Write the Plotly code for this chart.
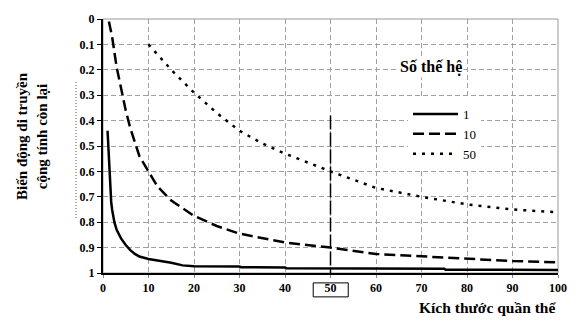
import plotly.graph_objects as go

# Population size (x) and remaining additive genetic variance (y)
x_gen1 = [1, 1.2, 1.4, 1.6, 1.8, 2, 2.5, 3, 3.5, 4, 5, 6, 7, 8, 10, 12, 15, 17.5, 20, 30, 30.3, 40, 40.3, 75, 75.3, 100]
y_gen1 = [0.44, 0.52, 0.6, 0.67, 0.72, 0.75, 0.8, 0.83, 0.85, 0.865, 0.89, 0.91, 0.925, 0.935, 0.945, 0.95, 0.96, 0.97, 0.973, 0.974, 0.977, 0.978, 0.981, 0.983, 0.987, 0.988]

x_gen10 = [1.3, 2, 3, 4, 5, 6, 7, 8, 10, 12, 15, 20, 25, 30, 40, 50, 60, 70, 80, 90, 100]
y_gen10 = [0.01, 0.07, 0.19, 0.28, 0.36, 0.43, 0.49, 0.54, 0.6, 0.66, 0.715, 0.775, 0.815, 0.845, 0.88, 0.9, 0.925, 0.935, 0.945, 0.953, 0.958]

x_gen50 = [10, 15, 20, 25, 30, 35, 40, 50, 60, 70, 80, 90, 99]
y_gen50 = [0.1, 0.2, 0.29, 0.37, 0.44, 0.49, 0.53, 0.6, 0.665, 0.7, 0.73, 0.75, 0.76]

series_names = ["1", "10", "50"]

x_ticks = [0, 10, 20, 30, 40, 50, 60, 70, 80, 90, 100]
y_ticks = [0, 0.1, 0.2, 0.3, 0.4, 0.5, 0.6, 0.7, 0.8, 0.9, 1]
y_tick_labels = ["0", "0.1", "0.2", "0.3", "0.4", "0.5", "0.6", "0.7", "0.8", "0.9", "1"]

marker_x = 50
marker_y0 = 0.38

SERIF = "Liberation Serif, Times New Roman, serif"

fig = go.Figure()
fig.add_trace(go.Scatter(x=x_gen1, y=y_gen1, mode="lines", name=series_names[0],
                         line=dict(color="black", width=2.5)))
fig.add_trace(go.Scatter(x=x_gen10, y=y_gen10, mode="lines", name=series_names[1],
                         line=dict(color="black", width=2.5, dash="11px,5px")))
fig.add_trace(go.Scatter(x=x_gen50, y=y_gen50, mode="lines", name=series_names[2],
                         line=dict(color="black", width=2.5, dash="3px,6px")))

fig.update_layout(
    width=579, height=321,
    margin=dict(l=103, r=21, t=19, b=48),
    paper_bgcolor="white", plot_bgcolor="white",
    font=dict(family=SERIF, color="black"),
    showlegend=True,
    legend=dict(x=(408 - 103) / 455, y=(273 - 99) / 254, xanchor="left", yanchor="top",
                bgcolor="white", borderwidth=0, font=dict(size=13, family=SERIF),
                itemwidth=45, tracegroupgap=0),
    xaxis=dict(range=[0, 100], tickvals=x_ticks, ticks="outside", ticklen=3, tickcolor="#888",
               showgrid=True, gridcolor="#a0a0a0", griddash="5px,3px", gridwidth=1,
               showline=True, linecolor="black", linewidth=2, zeroline=False,
               tickfont=dict(size=12, family=SERIF, weight="bold")),
    yaxis=dict(range=[1, 0], tickvals=y_ticks, ticktext=y_tick_labels, ticks="outside", ticklen=4,
               tickcolor="black", showgrid=True, gridcolor="#a0a0a0", griddash="5px,3px", gridwidth=1,
               showline=True, linecolor="black", linewidth=2, zeroline=False,
               tickfont=dict(size=12, family=SERIF, weight="bold")),
)

# gray frame on top/right
fig.add_shape(type="rect", xref="paper", yref="paper", x0=0, x1=1, y0=0, y1=1,
              line=dict(color="#999", width=1), layer="below")
# vertical marker at N = 50
fig.add_shape(type="line", xref="x", yref="y", x0=marker_x, x1=marker_x, y0=marker_y0, y1=1,
              line=dict(color="black", width=1.5, dash="14px,3px"))
# box around the "50" tick label
fig.add_shape(type="rect", xref="x", yref="paper", x0=marker_x - 3.8, x1=marker_x + 3.9,
              y0=-0.094, y1=-0.039, line=dict(color="black", width=1))
# dotted artifact line left of the y tick labels
fig.add_shape(type="line", xref="paper", yref="paper", x0=(76 - 103) / 455, x1=(76 - 103) / 455,
              y0=(273 - 82) / 254, y1=(273 - 220) / 254,
              line=dict(color="#555", width=1, dash="1px,2px"))

fig.add_annotation(text="Biến động di truyền<br>cộng tính còn lại", textangle=-90,
                   xref="paper", yref="paper", x=(32 - 103) / 455, y=(273 - 136) / 254,
                   xanchor="center", yanchor="middle", showarrow=False,
                   font=dict(size=15, family=SERIF, weight="bold"))
fig.add_annotation(text="Kích thước quần thể", xref="paper", yref="paper",
                   x=(558 - 103) / 455, y=(273 - 307) / 254, xanchor="right", yanchor="middle",
                   showarrow=False, font=dict(size=15.5, family=SERIF, weight="bold"))
fig.add_annotation(text="Số thế hệ", xref="paper", yref="paper",
                   x=(431 - 103) / 455, y=(273 - 67) / 254, xanchor="center", yanchor="middle",
                   showarrow=False, bgcolor="white",
                   font=dict(size=16, family=SERIF, weight="bold"))

fig.write_html("out.html")
